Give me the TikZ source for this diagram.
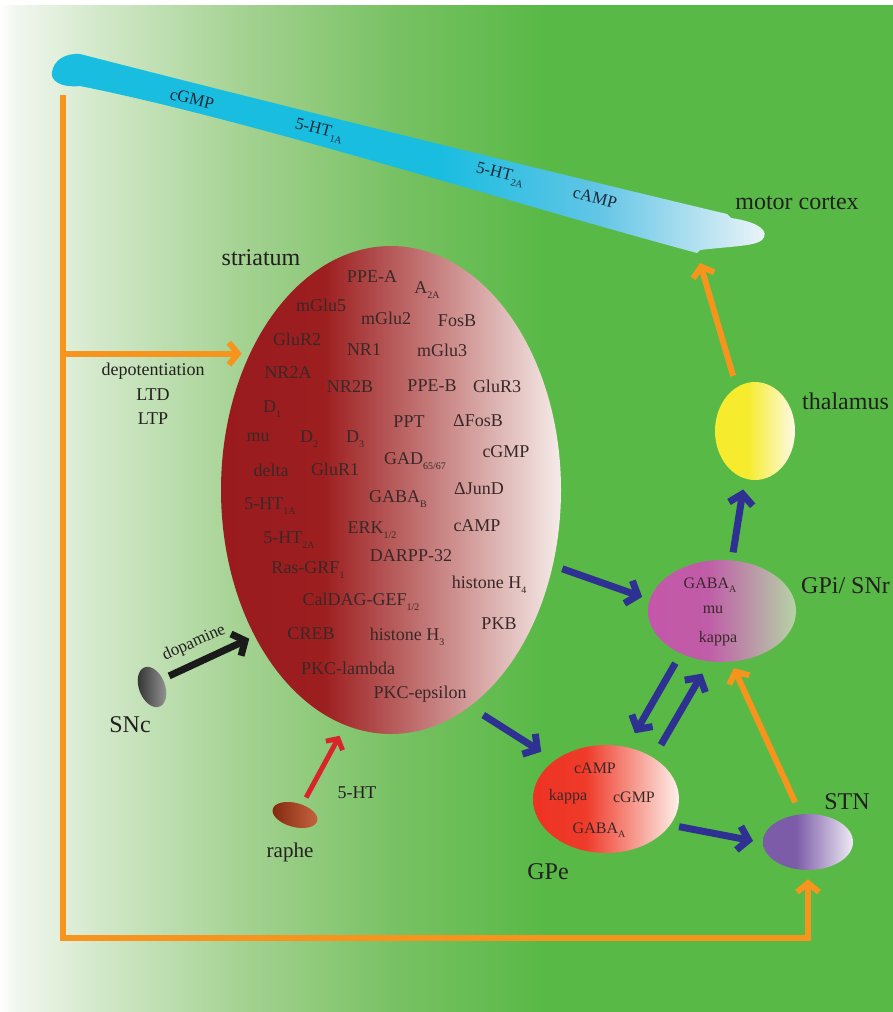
\documentclass[tikz,border=0pt]{standalone}
\usepackage{xcolor}
\usepackage{fontspec}
\setmainfont{Liberation Serif}
\newfontfamily\timesface{Liberation Serif}
\usetikzlibrary{arrows.meta,shapes.geometric}
\definecolor{leafgreen}{HTML}{58B946}
\definecolor{washa}{HTML}{F2F7EF}
\definecolor{washb}{HTML}{D2E8C9}
\definecolor{washc}{HTML}{A2D18F}
\definecolor{washd}{HTML}{77C162}
\definecolor{cortexcyan}{HTML}{19BDE0}
\definecolor{cortexmid}{HTML}{62C5E6}
\definecolor{cortexpale}{HTML}{EEF5F8}
\definecolor{stridark}{HTML}{991B1E}
\definecolor{stridarkb}{HTML}{9D1E1F}
\definecolor{stripale}{HTML}{F5ECE9}
\definecolor{gpimag}{HTML}{C457A9}
\definecolor{gpimagb}{HTML}{C05CA8}
\definecolor{gpipale}{HTML}{B5D3A6}
\definecolor{gpered}{HTML}{EE3224}
\definecolor{gperedb}{HTML}{EF3B2A}
\definecolor{gpepale}{HTML}{FDF0EA}
\definecolor{stnviolet}{HTML}{7C5BA8}
\definecolor{stnpale}{HTML}{EEEAF4}
\definecolor{thalyellow}{HTML}{F6EB2C}
\definecolor{thalpale}{HTML}{FDFAE5}
\definecolor{sncdark}{HTML}{2E2E2E}
\definecolor{sncpale}{HTML}{9A9A9A}
\definecolor{raphedark}{HTML}{82270F}
\definecolor{raphepale}{HTML}{C7653F}
\definecolor{pathorange}{HTML}{F7941D}
\definecolor{pathblue}{HTML}{2E3192}
\definecolor{pathred}{HTML}{D7262B}
\definecolor{pathblack}{HTML}{1A1A1A}
\definecolor{labeltxt}{HTML}{231F20}
\definecolor{stritxt}{HTML}{3A2828}
\definecolor{bandtxt}{HTML}{1E2A38}

\pgfdeclarehorizontalshading{meadow}{100bp}{color(0bp)=(white); color(25bp)=(white); color(25.8bp)=(washa); color(30.6bp)=(washb); color(39bp)=(washc); color(47.4bp)=(washd); color(55.6bp)=(leafgreen); color(100bp)=(leafgreen)}
\pgfdeclarehorizontalshading{cortexwash}{100bp}{color(0bp)=(cortexcyan); color(52bp)=(cortexcyan); color(63bp)=(cortexmid); color(75bp)=(cortexpale); color(100bp)=(cortexpale)}
\pgfdeclarehorizontalshading{striwash}{100bp}{color(0bp)=(stridark); color(25bp)=(stridark); color(40bp)=(stridarkb); color(75bp)=(stripale); color(100bp)=(stripale)}
\pgfdeclarehorizontalshading{gpiwash}{100bp}{color(0bp)=(gpimag); color(25bp)=(gpimag); color(45bp)=(gpimagb); color(75bp)=(gpipale); color(100bp)=(gpipale)}
\pgfdeclarehorizontalshading{gpewash}{100bp}{color(0bp)=(gpered); color(25bp)=(gpered); color(43bp)=(gperedb); color(75bp)=(gpepale); color(100bp)=(gpepale)}
\pgfdeclarehorizontalshading{stnwash}{100bp}{color(0bp)=(stnviolet); color(25bp)=(stnviolet); color(43bp)=(stnviolet); color(75bp)=(stnpale); color(100bp)=(stnpale)}
\pgfdeclarehorizontalshading{thalwash}{100bp}{color(0bp)=(thalyellow); color(25bp)=(thalyellow); color(45bp)=(thalyellow); color(75bp)=(thalpale); color(100bp)=(thalpale)}

\newcommand\sbx[1]{\raisebox{-0.6ex}{\fontsize{10}{10}\selectfont#1}}

\tikzset{
  nucleus/.style={ellipse,inner sep=0pt,shade},
  stritext/.style={text=stritxt,font=\timesface\fontsize{18}{18}\selectfont,inner sep=0pt},
  coretext/.style={text=stritxt,font=\timesface\fontsize{16}{16}\selectfont,inner sep=0pt},
  bandtext/.style={text=bandtxt,font=\timesface\fontsize{17}{17}\selectfont,inner sep=0pt,rotate=-14},
  region/.style={text=labeltxt,font=\timesface\fontsize{24}{24}\selectfont,inner sep=0pt},
  smalllabel/.style={text=labeltxt,font=\timesface\fontsize{18}{18}\selectfont,inner sep=0pt},
  orangeway/.style={draw=pathorange,line width=6pt},
  orangearrow/.style={orangeway,-{Straight Barb[length=9pt,width=22pt]}},
  bluearrow/.style={draw=pathblue,line width=7pt,-{Straight Barb[length=10pt,width=24pt]}},
  blackarrow/.style={draw=pathblack,line width=7pt,-{Straight Barb[length=10pt,width=24pt]}},
  redarrow/.style={draw=pathred,line width=5pt,-{Straight Barb[length=8pt,width=19pt]}},
}

\begin{document}
\begin{tikzpicture}[x=1pt,y=-1pt]
  \useasboundingbox (0,0) rectangle (893,1012);
  \fill[white] (0,0) rectangle (893,1012);
  \shade[shading=meadow] (0,5) rectangle (893,1012);

  % motor cortex band
  \shade[shading=cortexwash] (80,54) .. controls (200,85) and (500,160) .. (727,214) -- (731,218)
    .. controls (760,222) and (770,232) .. (762,240) .. controls (755,246) and (735,246) .. (700,250)
    -- (697,253) .. controls (500,200) and (250,120) .. (80,86)
    .. controls (60,88) and (50,80) .. (52,72) .. controls (54,60) and (65,53) .. (80,54) -- cycle;
  \node[bandtext] (bandcgmp) at (192,99) {cGMP};
  \node[bandtext] (bandhta) at (319,131) {5-HT\sbx{1A}};
  \node[bandtext] (bandhtb) at (500,175) {5-HT\sbx{2A}};
  \node[bandtext] (bandcamp) at (595,198) {cAMP};
  \coordinate (ctxfoot) at (700,263);

  % nuclei
  \node[nucleus,shading=striwash,minimum width=340pt,minimum height=488pt] (striatum) at (391,490) {};
  \node[nucleus,shading=thalwash,minimum width=80pt,minimum height=98pt] (thalamus) at (755,431) {};
  \node[nucleus,shading=gpiwash,minimum width=148pt,minimum height=102pt] (gpi) at (722,611) {};
  \node[nucleus,shading=gpewash,minimum width=146pt,minimum height=108pt] (gpe) at (606,799) {};
  \node[nucleus,shading=stnwash,minimum width=90pt,minimum height=56pt] (stn) at (808,842) {};
  \node[nucleus,left color=sncdark,right color=sncpale,minimum width=26pt,minimum height=42pt,rotate=21] (snc) at (152,687) {};
  \node[nucleus,left color=raphedark,right color=raphepale,minimum width=46pt,minimum height=24pt,rotate=-15] (raphe) at (295,815) {};

  % striatum contents
  \foreach \px/\py/\txt [count=\i] in {
      372/277/PPE-A, 427/290/{A\sbx{2A}}, 321/305/mGlu5, 386/318/mGlu2, 457/321/FosB,
      297/339/GluR2, 364/350/NR1, 442/350/mGlu3, 288/373/NR2A, 350/387/NR2B,
      432/386/PPE-B, 497/386/GluR3, 272/409/{D\sbx{1}}, 409/422/PPT, 478/421/{ΔFosB},
      258/437/mu, 309/439/{D\sbx{2}}, 355/439/{D\sbx{3}}, 415/461/{GAD\sbx{65/67}}, 506/452/cGMP,
      271/470/delta, 335/469/GluR1, 398/499/{GABA\sbx{B}}, 479/489/{ΔJunD}, 270/506/{5-HT\sbx{1A}},
      372/530/{ERK\sbx{1/2}}, 477/526/cAMP, 289/540/{5-HT\sbx{2A}}, 411/556/DARPP-32, 308/570/{Ras-GRF\sbx{1}},
      489/585/{histone H\sbx{4}}, 361/602/{CalDAG-GEF\sbx{1/2}}, 499/624/PKB, 311/634/CREB, 407/637/{histone H\sbx{3}},
      348/668/PKC-lambda, 420/694/PKC-epsilon}
    \node[stritext] (mol\i) at (\px,\py) {\txt};

  \node[coretext] (gpigaba) at (710,585) {GABA\sbx{A}};
  \node[coretext] (gpimu) at (713,610) {mu};
  \node[coretext] (gpikappa) at (718,639) {kappa};
  \node[coretext] (gpecamp) at (595,768) {cAMP};
  \node[coretext] (gpekappa) at (568,797) {kappa};
  \node[coretext] (gpecgmp) at (634,797) {cGMP};
  \node[coretext] (gpegaba) at (599,830) {GABA\sbx{A}};

  % labels
  \node[region] (ctxlabel) at (797,203) {motor cortex};
  \node[region] (strilabel) at (261,258) {striatum};
  \node[region,anchor=west] (thallabel) at (802,401) {thalamus};
  \node[region,anchor=west] (gpilabel) at (801,586) {GPi/ SNr};
  \node[region] (stnlabel) at (847,802) {STN};
  \node[region] (gpelabel) at (548,872) {GPe};
  \node[region] (snclabel) at (130,725) {SNc};
  \node[region,font=\timesface\fontsize{21}{21}\selectfont] (raphelabel) at (290,852) {raphe};
  \node[smalllabel] (htlabel) at (357,793) {5-HT};
  \node[smalllabel,font=\timesface\fontsize{17}{17}\selectfont,rotate=24] (dalabel) at (194,643) {dopamine};
  \node[smalllabel] (depot) at (153,371) {depotentiation};
  \node[smalllabel] (ltd) at (153,395) {LTD};
  \node[smalllabel] (ltp) at (153,419) {LTP};

  % pathways
  \coordinate (trunktop) at (63,95);
  \coordinate (trunkfoot) at (63,938);
  \draw[orangearrow,shorten >=9pt] (trunktop) -- (trunkfoot) -| (stn.south);
  \draw[orangearrow,shorten >=8pt] (striatum.136 -| trunktop) -- (striatum.136);
  \draw[orangearrow,shorten <=12pt] (thalamus.113) -- (ctxfoot);
  \draw[orangearrow,shorten <=13pt,shorten >=7pt] (stn.105.6) -- (gpi.-80.8);
  \draw[bluearrow,shorten <=10pt,shorten >=8pt] (striatum.-25.5) -- (gpi.171);
  \draw[bluearrow,shorten <=16pt,shorten >=16pt] (striatum.-70) -- (gpe.143);
  \draw[bluearrow,shorten <=9pt,shorten >=10pt] (gpe.-22) -- (stn.181);
  \draw[bluearrow,shorten <=8pt,shorten >=11pt] (gpi.79) -- (thalamus.-102);
  \draw[bluearrow,shorten <=11pt,shorten >=16pt] (gpi.-134.5) -- (gpe.68);
  \draw[bluearrow,shorten <=15pt,shorten >=14pt] (gpe.41.7) -- (gpi.-104.7);
  \draw[blackarrow,shorten <=7pt,shorten >=6pt] (snc.16) -- (striatum.-133);
  \draw[redarrow,shorten <=8pt,shorten >=12pt] (raphe.70) -- (striatum.-101.5);
\end{tikzpicture}
\end{document}
